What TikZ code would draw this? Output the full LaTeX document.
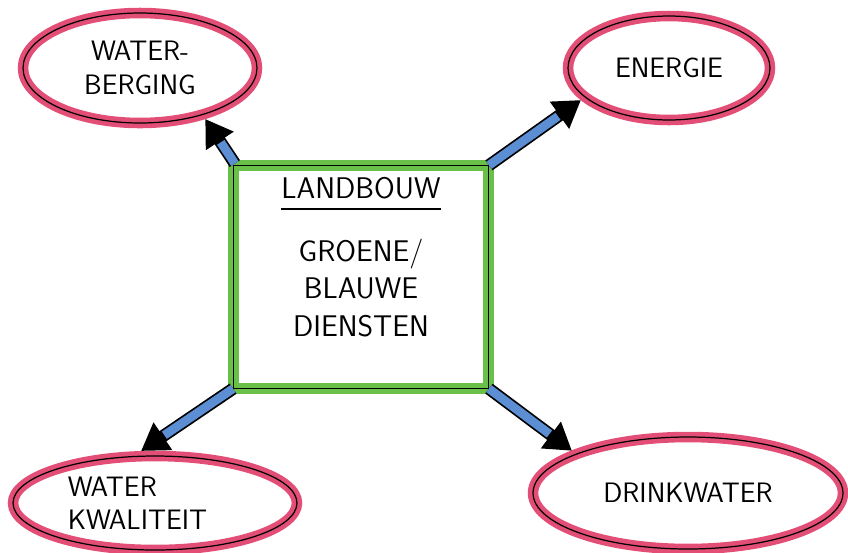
\documentclass[tikz,border=0pt]{standalone}
\usepackage{tikz}
\usetikzlibrary{shapes,arrows.meta,positioning}
\usepackage{xcolor}
\definecolor{roze}{RGB}{226,78,118}
\definecolor{groen}{RGB}{104,192,72}
\definecolor{blauw}{RGB}{92,142,212}

\begin{document}
\begin{tikzpicture}[x=0.02cm,y=-0.02cm,
        font=\sffamily\fontsize{16}{19}\selectfont,
        wolk/.style={ellipse,draw=roze,line width=6pt,align=center,inner sep=0pt,
          postaction={draw=black,line width=0.7pt}},
        blok/.style={rectangle,draw=groen,line width=6.5pt,
          minimum width=5.1cm,minimum height=4.45cm,
          postaction={draw=black,line width=0.8pt}},
        pijl/.style={draw=black,line width=7pt,-{Triangle[length=15pt,width=18pt]},
          postaction={draw=blauw,line width=5pt,-,shorten >=16pt}}]
        \useasboundingbox (0,0) rectangle (848,552);
        % landbouw
        \node[blok] (land) at (361,277) {};
        \node[inner sep=0pt,font=\sffamily\fontsize{17}{21.5}\selectfont,
          below=0.34cm of land.north] (titel) {LANDBOUW};
        \draw[line width=1.5pt] ([yshift=-5.5pt]titel.south west) -- ([yshift=-5.5pt]titel.south east);
        \node[inner sep=0pt,align=center,font=\sffamily\fontsize{17}{21.5}\selectfont,
          below=0.78cm of titel] (diensten) {GROENE/\\BLAUWE\\DIENSTEN};
        % wolken
        \node[wolk,minimum width=4.68cm,minimum height=2.2cm] (berging) at (140,68) {WATER-\\BERGING};
        \node[wolk,minimum width=4.04cm,minimum height=2.08cm] (energie) at (669,68) {ENERGIE};
        \node[wolk,minimum width=5.68cm,minimum height=1.88cm,align=left] (kwal) at (155,503)
          {WATER\\KWALITEIT\hspace*{0.7cm}};
        \node[wolk,minimum width=6.2cm,minimum height=2.24cm] (drink) at (688,493) {DRINKWATER};
        % pijlen
        \draw[pijl] ([shift={(4pt,-2pt)}]land.north west) -- (berging.-38);
        \draw[pijl] ([shift={(-3pt,-3pt)}]land.north east) -- (energie.200);
        \draw[pijl] ([shift={(3pt,3pt)}]land.south west) -- (kwal.105);
        \draw[pijl] ([shift={(-3pt,3pt)}]land.south east) -- (drink.160);
\end{tikzpicture}
\end{document}
